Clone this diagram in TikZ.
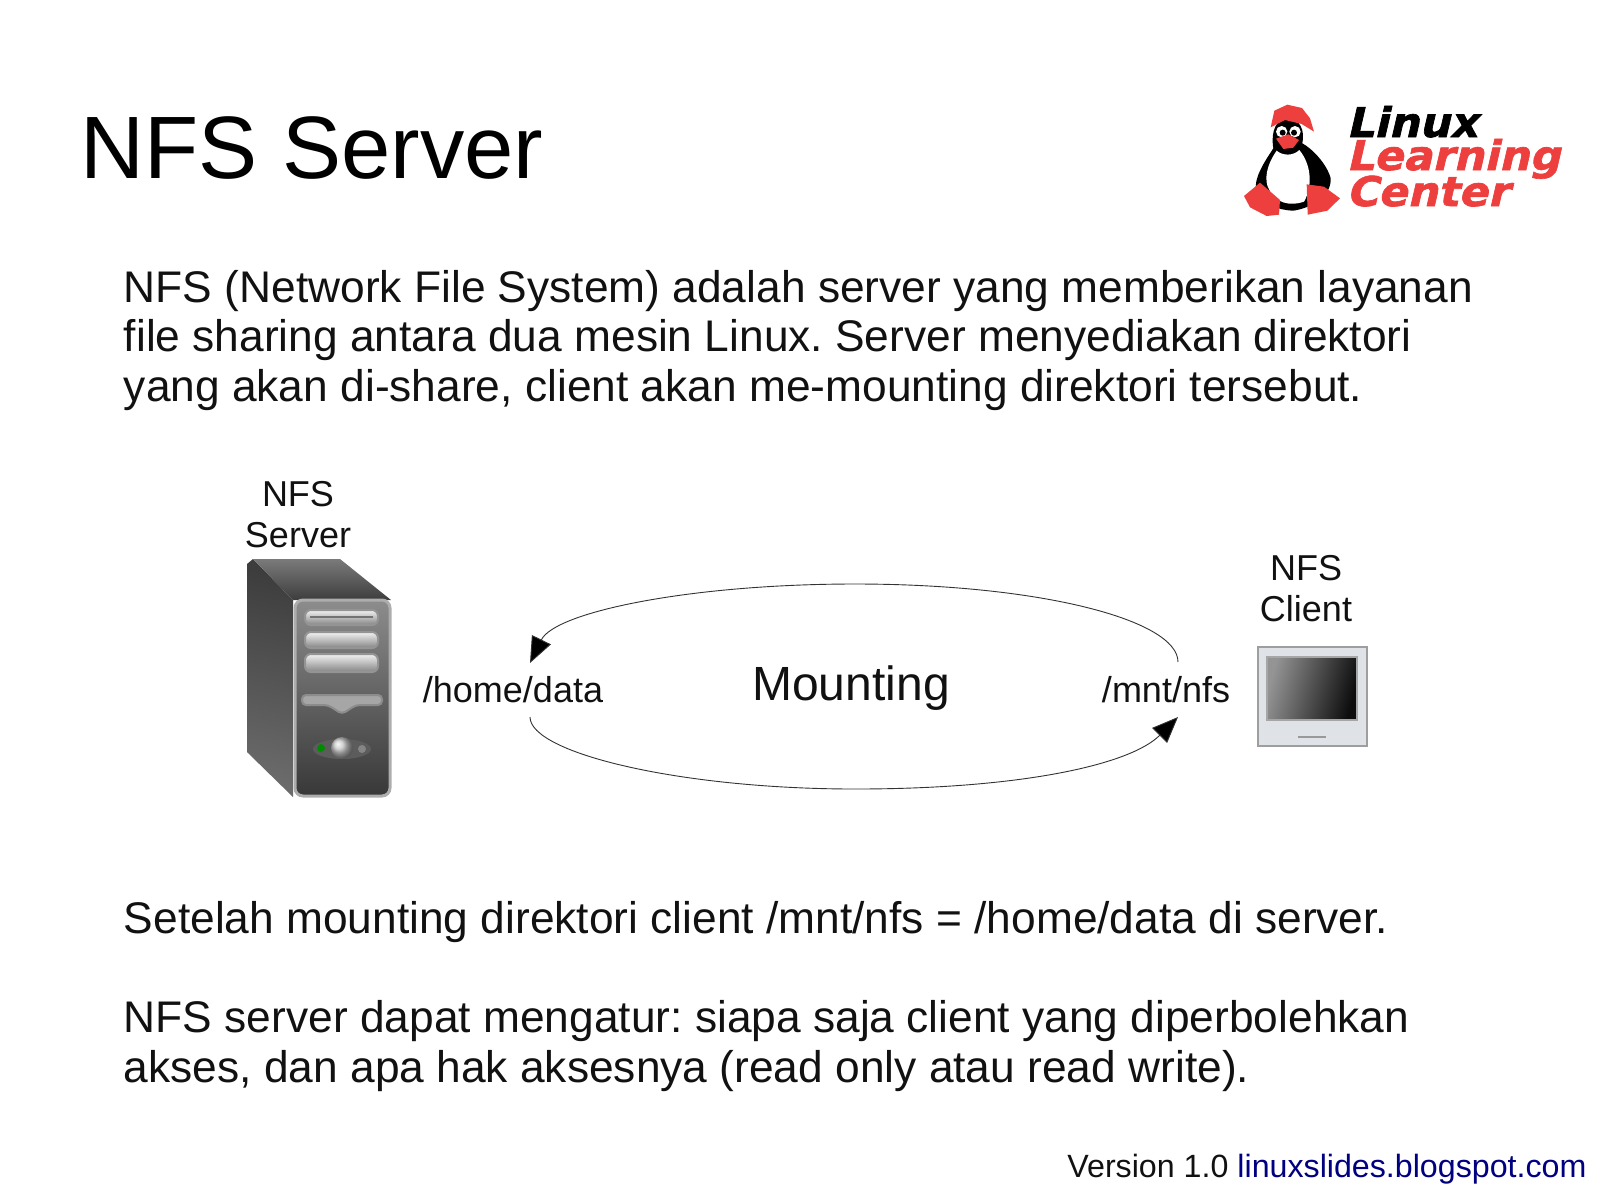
\documentclass[tikz,border=0pt]{standalone}
\usepackage{fontspec}
\setmainfont{Liberation Sans}
\newfontfamily\logofont[FakeBold=1.6,FakeSlant=0.22]{DejaVu Sans Bold}
\usetikzlibrary{arrows.meta}
\definecolor{linkblue}{HTML}{000080}
\definecolor{logored}{HTML}{EE3F3F}
\definecolor{bodyink}{HTML}{111111}
\definecolor{monitorgray}{HTML}{DFE2E6}
\tikzset{
  titletext/.style={anchor=base west,inner sep=0pt,font=\fontsize{44.3}{50}\selectfont},
  bodytext/.style={anchor=north west,inner sep=0pt,align=left,text=bodyink,font=\frenchspacing\fontsize{22.15}{24.8}\selectfont},
  labeltext/.style={inner sep=0pt,align=center,text=bodyink,font=\fontsize{18}{20.5}\selectfont},
  logotext/.style={anchor=base west,inner sep=0pt,xscale=1.05,font=\logofont\fontsize{20.5}{21}\selectfont},
  mountarc/.style={line width=0.45pt,draw=black!80,-{Triangle[length=13pt,width=10.5pt,fill=black]}},
  baybar/.style={draw=black!42,line width=1pt,rounded corners=3pt,top color=black!5,bottom color=black!48},
}
\begin{document}
\begin{tikzpicture}[x=0.5pt,y=-0.5pt]
  \useasboundingbox (0,0) rectangle (1600,1200);
  \path (80,178) node[titletext] (title) {NFS Server};
  \path (123.5,269.5) node[bodytext] (intro) {NFS (Network File System) adalah server yang memberikan layanan\\
    file sharing antara dua mesin Linux. Server menyediakan direktori\\
    yang akan di-share, client akan me-mounting direktori tersebut.};
  \path (123.5,900.5) node[bodytext] (after) {Setelah mounting direktori client /mnt/nfs = /home/data di server.};
  \path (123.5,1000) node[bodytext] (rules) {NFS server dapat mengatur: siapa saja client yang diperbolehkan\\
    akses, dan apa hak aksesnya (read only atau read write).};
  \path (1067,1177) node[anchor=base west,inner sep=0pt,text=bodyink,font=\fontsize{16.1}{18}\selectfont] (version) {Version 1.0 \textcolor{linkblue}{linuxslides.blogspot.com}};

  \path (298,515) node[labeltext] (serverlabel) {NFS\\Server};
  \path (1306,589) node[labeltext] (clientlabel) {NFS\\Client};
  \path (513,690) node[labeltext] (homedata) {/home/data};
  \path (1166,690) node[labeltext] (mntnfs) {/mnt/nfs};
  \path (851,688) node[labeltext,font=\fontsize{24}{28}\selectfont] (mounting) {Mounting};

  \coordinate (hometop) at (530,663);
  \coordinate (homelow) at (530,717);
  \coordinate (mnttop) at (1178,662);
  \coordinate (mntlow) at (1178,717);
  \draw[mountarc] (mnttop) .. controls (1178,620) and (1040,584) .. (855,584)
    .. controls (690,584) and (555,612) .. (hometop);
  \draw[mountarc] (homelow) .. controls (530,753) and (680,789) .. (855,789)
    .. controls (1020,789) and (1130,765) .. (mntlow);

  \shade[top color=black!76,bottom color=black!58,shading angle=-12] (247,564) -- (253,559) -- (293,600) -- (293,797) -- (247,752) -- cycle;
  \shade[top color=black!52,bottom color=black!76] (253,559) -- (340,559) -- (391,600) -- (293,600) -- cycle;
  \shade[draw=black!32,line width=1.5pt,rounded corners=4pt,top color=black!45,bottom color=black!78] (295,600) rectangle (390,796);
  \path[baybar] (305,610) rectangle (378,625);
  \draw[black!55,line width=1pt] (310,617) -- (373,617);
  \path[baybar] (305,632) rectangle (378,648);
  \path[baybar] (305,654) rectangle (378,672);
  \draw[draw=black!45,line width=1pt,fill=black!35,rounded corners=2pt] (302,695) -- (382,695) -- (382,705) -- (356,705) -- (342,714) -- (328,705) -- (302,705) -- cycle;
  \fill[black!64] (342,749) ellipse (29 and 10);
  \shade[ball color=black!22] (342,748) circle (11);
  \fill[green!55!black] (321,748) circle (4);
  \fill[black!48] (362,749) circle (4);

  \draw[draw=black!38,line width=0.75pt,fill=monitorgray] (1258,647) rectangle (1367,746);
  \shade[draw=black!35,line width=0.75pt,left color=black!42,right color=black!95,shading angle=75] (1267,657) rectangle (1357,720);
  \fill[black!40] (1298,736) rectangle (1326,738);

  \begin{scope}[shift={(1230,90)},scale=1/3]
    \fill[black] (170,85) .. controls (125,90) and (125,150) .. (130,175) .. controls (100,220) and (72,265) .. (78,300) .. controls (110,345) and (140,360) .. (190,362) .. controls (240,355) and (305,320) .. (302,265) .. controls (290,220) and (245,175) .. (217,160) .. controls (225,120) and (210,85) .. (170,85) -- cycle;
    \fill[white] (140,182) .. controls (110,225) and (100,270) .. (118,300) .. controls (135,338) and (180,350) .. (222,335) .. controls (248,290) and (245,225) .. (208,180) .. controls (190,198) and (158,198) .. (140,182) -- cycle;
    \fill[logored] (122,112) -- (133,62) -- (172,44) -- (216,54) -- (240,85) -- (252,125) -- (215,102) -- (165,90) -- cycle;
    \fill[white] (155,125) circle (17) (195,125) circle (17);
    \fill[black] (158,128) circle (9) (192,128) circle (9);
    \fill[logored] (138,146) -- (175,133) -- (207,150) -- (190,173) -- (160,177) -- cycle;
    \fill[logored] (42,318) -- (90,278) -- (150,330) -- (147,374) -- (110,378) -- (60,352) -- cycle;
    \fill[logored] (230,283) -- (282,290) -- (330,325) -- (292,362) -- (233,374) -- cycle;
  \end{scope}
  \path (1346,137) node[logotext] (logolinux) {Linux};
  \path (1346,170) node[logotext,text=logored] (logolearning) {Learning};
  \path (1346,206) node[logotext,text=logored] (logocenter) {Center};
\end{tikzpicture}
\end{document}
